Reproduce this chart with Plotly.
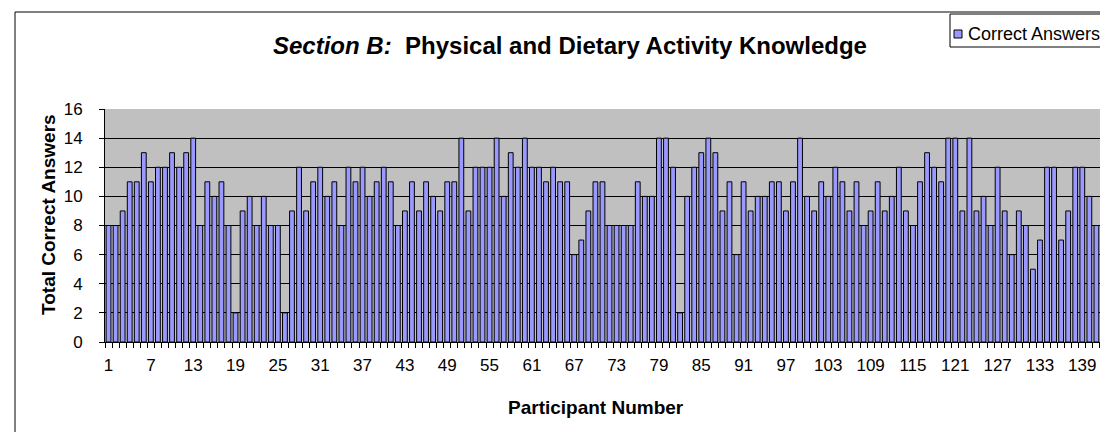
import plotly.graph_objects as go

# participant ids and their score (correct answers, section B)
participants = list(range(1, 143))
correct_answers = [
    8, 8, 9, 11, 11, 13, 11, 12, 12, 13,
    12, 13, 14, 8, 11, 10, 11, 8, 2, 9,
    10, 8, 10, 8, 8, 2, 9, 12, 9, 11,
    12, 10, 11, 8, 12, 11, 12, 10, 11, 12,
    11, 8, 9, 11, 9, 11, 10, 9, 11, 11,
    14, 9, 12, 12, 12, 14, 10, 13, 12, 14,
    12, 12, 11, 12, 11, 11, 6, 7, 9, 11,
    11, 8, 8, 8, 8, 11, 10, 10, 14, 14,
    12, 2, 10, 12, 13, 14, 13, 9, 11, 6,
    11, 9, 10, 10, 11, 11, 9, 11, 14, 10,
    9, 11, 10, 12, 11, 9, 11, 8, 9, 11,
    9, 10, 12, 9, 8, 11, 13, 12, 11, 14,
    14, 9, 14, 9, 10, 8, 12, 9, 6, 9,
    8, 5, 7, 12, 12, 7, 9, 12, 12, 10, 8, 8,
]
x_tick_labels = participants[::6]
y_ticks = list(range(0, 17, 2))

BAR = "#9999ff"
FONT = "Liberation Sans, Arial, sans-serif"

W, H = 1108, 432
L, R, T, B = 97, 1099, 101, 334   # plot area in pixels


def px(x):
    return (x - L) / (R - L)


def py(y):
    return (B - y) / (B - T)


fig = go.Figure(go.Bar(
    x=participants, y=correct_answers,
    marker=dict(color=BAR, line=dict(color="black", width=1)),
    name="Correct Answers",
    showlegend=False,
))

shapes = [
    # chart border
    dict(type="rect", xref="paper", yref="paper",
         x0=px(7), x1=px(1120), y0=py(429), y1=py(4),
         line=dict(color="black", width=1), fillcolor="rgba(0,0,0,0)", layer="below"),
    # legend box (runs off the right edge like the original)
    dict(type="rect", xref="paper", yref="paper",
         x0=px(942), x1=px(1120), y0=py(39), y1=py(6),
         line=dict(color="black", width=1), fillcolor="white"),
    dict(type="rect", xref="paper", yref="paper",
         x0=px(946), x1=px(954), y0=py(30), y1=py(22),
         line=dict(color="black", width=1), fillcolor=BAR),
]

annotations = [
    dict(text="<b><i>Section B:</i>  Physical and Dietary Activity Knowledge</b>",
         xref="paper", yref="paper", x=px(562), y=py(37),
         xanchor="center", yanchor="middle", showarrow=False,
         font=dict(family=FONT, size=24, color="black")),
    dict(text="Correct Answers", xref="paper", yref="paper",
         x=px(958), y=py(26), xanchor="left", yanchor="middle", showarrow=False,
         font=dict(family=FONT, size=18, color="black")),
    dict(text="<b>Total Correct Answers</b>", xref="paper", yref="paper",
         x=px(40), y=py(207), textangle=-90, xanchor="center", yanchor="middle",
         showarrow=False, font=dict(family=FONT, size=19, color="black")),
    dict(text="<b>Participant Number</b>", xref="paper", yref="paper",
         x=px(588), y=py(399), xanchor="center", yanchor="middle",
         showarrow=False, font=dict(family=FONT, size=19, color="black")),
]

fig.update_layout(
    width=W, height=H,
    margin=dict(l=L, r=W - R, t=T, b=H - B, autoexpand=False),
    paper_bgcolor="white",
    plot_bgcolor="#c0c0c0",
    bargap=0.32,
    font=dict(family=FONT, size=17, color="black"),
    shapes=shapes,
    annotations=annotations,
    xaxis=dict(
        range=[0.5, len(participants) + 0.5],
        tickmode="array", tickvals=x_tick_labels,
        ticktext=[str(v) for v in x_tick_labels],
        ticks="", showgrid=False, zeroline=False,
        showline=True, linecolor="black", linewidth=1,
        ticklabelstandoff=8,
        minor=dict(tickmode="array",
                   tickvals=[p - 0.5 for p in participants] + [participants[-1] + 0.5],
                   ticks="outside", ticklen=5, tickcolor="black", showgrid=False),
    ),
    yaxis=dict(
        range=[0, 16], tickmode="array", tickvals=y_ticks,
        showgrid=True, gridcolor="black", gridwidth=1, zeroline=False,
        showline=True, linecolor="black", linewidth=1,
        ticks="outside", ticklen=5, tickcolor="black",
        ticklabelstandoff=13,
    ),
)

fig.write_html("out.html")
